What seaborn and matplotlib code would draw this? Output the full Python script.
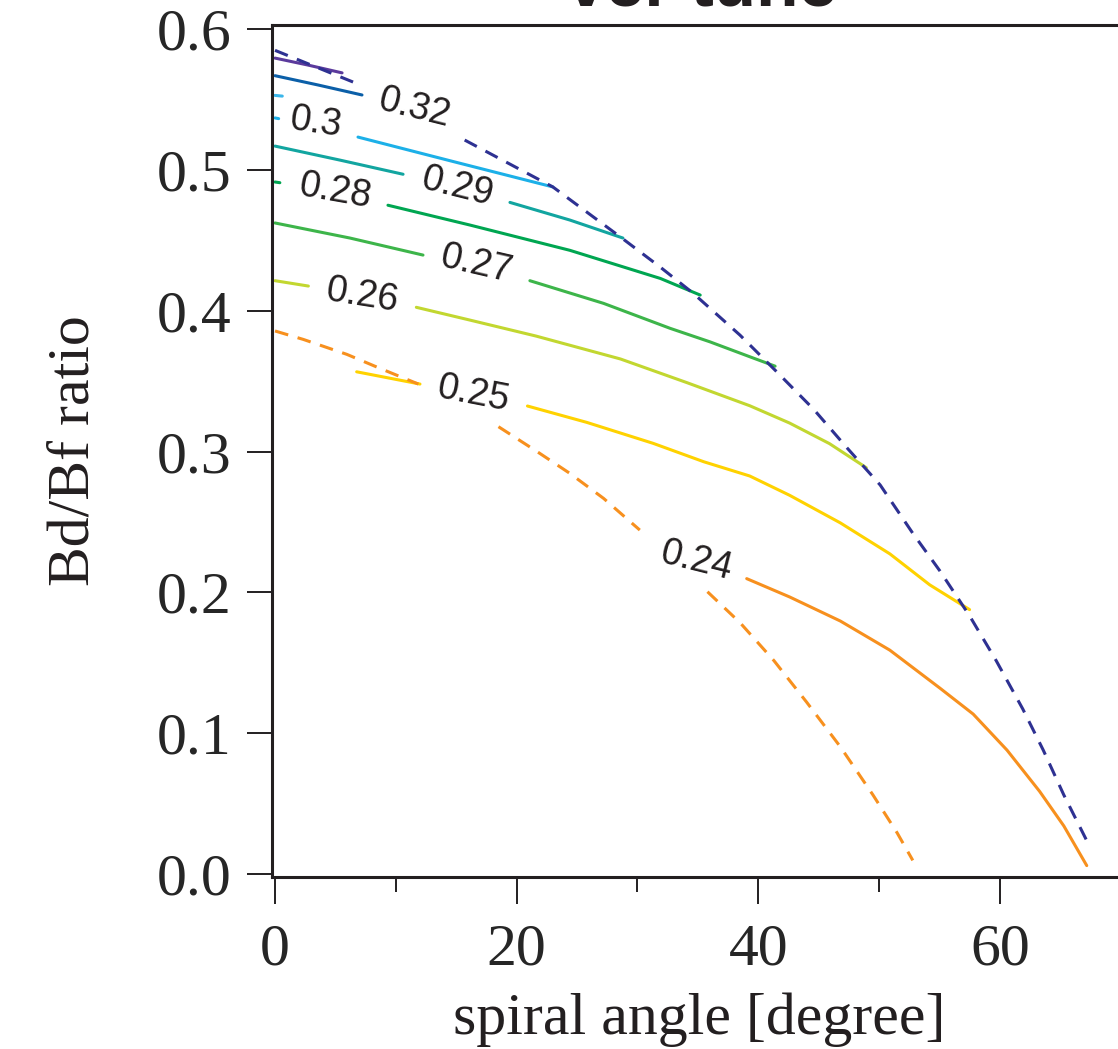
import numpy as np
import pandas as pd
import matplotlib
matplotlib.use('Agg')
import matplotlib.pyplot as plt
import seaborn as sns

nan = np.nan

# contour lines (x = spiral angle, y = Bd/Bf ratio), nan = gap
x_033 = [0, 2.7, 5.55]
y_033 = [0.5795, 0.5746, 0.569]
x_032 = [0, 3.56, 7.2]
y_032 = [0.567, 0.5604, 0.5533]
x_031 = [0, 0.6]
y_031 = [0.553, 0.5525]
x_030 = [0, 0.3, nan, 6.87, 14.9, 23.0]
y_030 = [0.537, 0.5365, nan, 0.5234, 0.5057, 0.488]
x_029 = [0, 5.4, 10.6, nan, 19.45, 24.4, 28.8]
y_029 = [0.517, 0.507, 0.497, nan, 0.477, 0.4645, 0.4517]
x_028 = [0, 0.4, nan, 9.35, 16.1, 24.4, 31.9, 35.2]
y_028 = [0.4915, 0.491, nan, 0.475, 0.461, 0.443, 0.423, 0.4112]
x_027 = [0, 6.2, 12.25, nan, 21.1, 27.2, 32.7, 36.0, 39.3, 41.4]
y_027 = [0.4624, 0.4517, 0.4396, nan, 0.4214, 0.4053, 0.3876, 0.378, 0.3674, 0.3607]
x_026 = [0, 2.76, nan, 11.7, 16.1, 21.6, 28.6, 34.1, 39.3, 42.6, 45.9, 48.95]
y_026 = [0.4214, 0.4176, nan, 0.4025, 0.3935, 0.3821, 0.3658, 0.349, 0.3326, 0.3203, 0.3057, 0.2886]
x_025 = [6.76, 12.0, nan, 20.9, 25.8, 31.3, 35.5, 39.3, 42.6, 46.8, 50.9, 54.2, 57.5]
y_025 = [0.3567, 0.348, nan, 0.3324, 0.3208, 0.3059, 0.2928, 0.2827, 0.269, 0.2494, 0.2274, 0.2054, 0.1878]
x_024 = [39.05, 42.6, 46.8, 50.9, 55.05, 57.8, 60.6, 63.3, 65.3, 67.2]
y_024 = [0.2098, 0.1968, 0.1797, 0.159, 0.132, 0.1136, 0.088, 0.0587, 0.0342, 0.006]

# dashed limits
x_upper = [0, 6.46, nan, 15.7, 23.0, 28.6, 31.9, 34.6, 38.5, 41.5, 44.6, 47.3, 50.1,
           52.8, 55.05, 57.5, 59.7, 61.9, 63.6, 65.3, 67.3]
y_upper = [0.585, 0.5625, nan, 0.5213, 0.488, 0.4524, 0.431, 0.4126, 0.3827, 0.357, 0.330, 0.3032, 0.2763,
           0.242, 0.2152, 0.1834, 0.1516, 0.1173, 0.088, 0.0562, 0.022]
x_lower = [0, 2.34, 5.94, 8.7, 11.87, nan, 18.5, 21.7, 24.4, 27.2, 30.2, nan,
           35.8, 38.5, 41.3, 44.0, 46.8, 49.5, 51.5, 52.8]
y_lower = [0.3857, 0.3797, 0.3691, 0.3591, 0.348, nan, 0.3177, 0.300, 0.2846, 0.2668, 0.2443, nan,
           0.2005, 0.1785, 0.1516, 0.1222, 0.0904, 0.0562, 0.0293, 0.0097]

# contour labels: text, x, y, rotation
label_text = ['0.32', '0.3', '0.29', '0.28', '0.27', '0.26', '0.25', '0.24']
label_x = [11.5, 3.4, 15.07, 4.97, 16.7, 7.2, 16.4, 34.85]
label_y = [0.544, 0.5334, 0.488, 0.4847, 0.433, 0.411, 0.341, 0.2225]
label_rot = [-14, -8, -14, -10, -13, -9, -11, -14]

lines = [
    (x_033, y_033, '#5b3a9c', '-'),
    (x_032, y_032, '#0b5fa8', '-'),
    (x_031, y_031, '#3ab6ea', '-'),
    (x_030, y_030, '#1cb0e8', '-'),
    (x_029, y_029, '#12a5a0', '-'),
    (x_028, y_028, '#00a651', '-'),
    (x_027, y_027, '#3db54a', '-'),
    (x_026, y_026, '#c2d730', '-'),
    (x_025, y_025, '#ffd200', '-'),
    (x_024, y_024, '#f7901e', '-'),
    (x_upper, y_upper, '#2e3192', (0, (4.5, 3.2))),
    (x_lower, y_lower, '#f7901e', (0, (4.5, 3.2))),
]

sns.set_style('ticks')
plt.rcParams['font.family'] = ['Liberation Serif', 'DejaVu Serif']

fig = plt.figure(figsize=(11.18, 10.49), dpi=100)
ax = fig.add_axes([272 / 1118, 1 - 877 / 1049, (1126 - 272) / 1118, (877 - 25) / 1049])

for xs, ys, col, ls in lines:
    xs = np.array(xs, dtype=float)
    ys = np.array(ys, dtype=float)
    seg = np.cumsum(np.isnan(xs))
    d = pd.DataFrame({'x': xs, 'y': ys, 'seg': seg}).dropna()
    sns.lineplot(data=d, x='x', y='y', units='seg', estimator=None, sort=False,
                 color=col, linewidth=2.2, linestyle=ls, ax=ax)

for t, lx, ly, r in zip(label_text, label_x, label_y, label_rot):
    ax.text(lx, ly, t, rotation=r, ha='center', va='center', fontsize=27,
            family=['Liberation Sans', 'DejaVu Sans'], color='#231f20',
            rotation_mode='anchor')

ax.set_xlim(-0.25, 70.45)
ax.set_ylim(-0.0021, 0.603)
ax.set_xticks([0, 20, 40, 60])
ax.set_xticks([10, 30, 50], minor=True)
ax.set_yticks([0.0, 0.1, 0.2, 0.3, 0.4, 0.5, 0.6])
ax.set_yticklabels(['0.0', '0.1', '0.2', '0.3', '0.4', '0.5', '0.6'])
ax.tick_params(axis='x', which='major', length=19.5, width=1.4, pad=14, labelsize=43, color='#231f20')
ax.tick_params(axis='x', which='minor', length=10.8, width=1.4, color='#231f20')
ax.tick_params(axis='y', which='major', length=18, width=1.4, pad=11, labelsize=43, color='#231f20')
for s in ['left', 'top', 'bottom']:
    ax.spines[s].set_linewidth(2.2)
    ax.spines[s].set_color('#231f20')
ax.spines['right'].set_visible(False)

ax.set_xlabel('spiral angle [degree]', fontsize=43, labelpad=11, color='#231f20')
ax.set_ylabel('Bd/Bf ratio', fontsize=43, labelpad=40, color='#231f20')

# bits of text cut off at the top edge
fig.text(702 / 1118, 1 - 5 / 1049, 'ver tune', ha='center', va='baseline', fontsize=50,
         fontweight='bold', family=['Liberation Sans', 'DejaVu Sans'], color='#231f20')
fig.text(93 / 1118, 1 + 10 / 1049, '[-]', ha='left', va='baseline', fontsize=43, color='#231f20')

fig.savefig('out.png', dpi=100)
